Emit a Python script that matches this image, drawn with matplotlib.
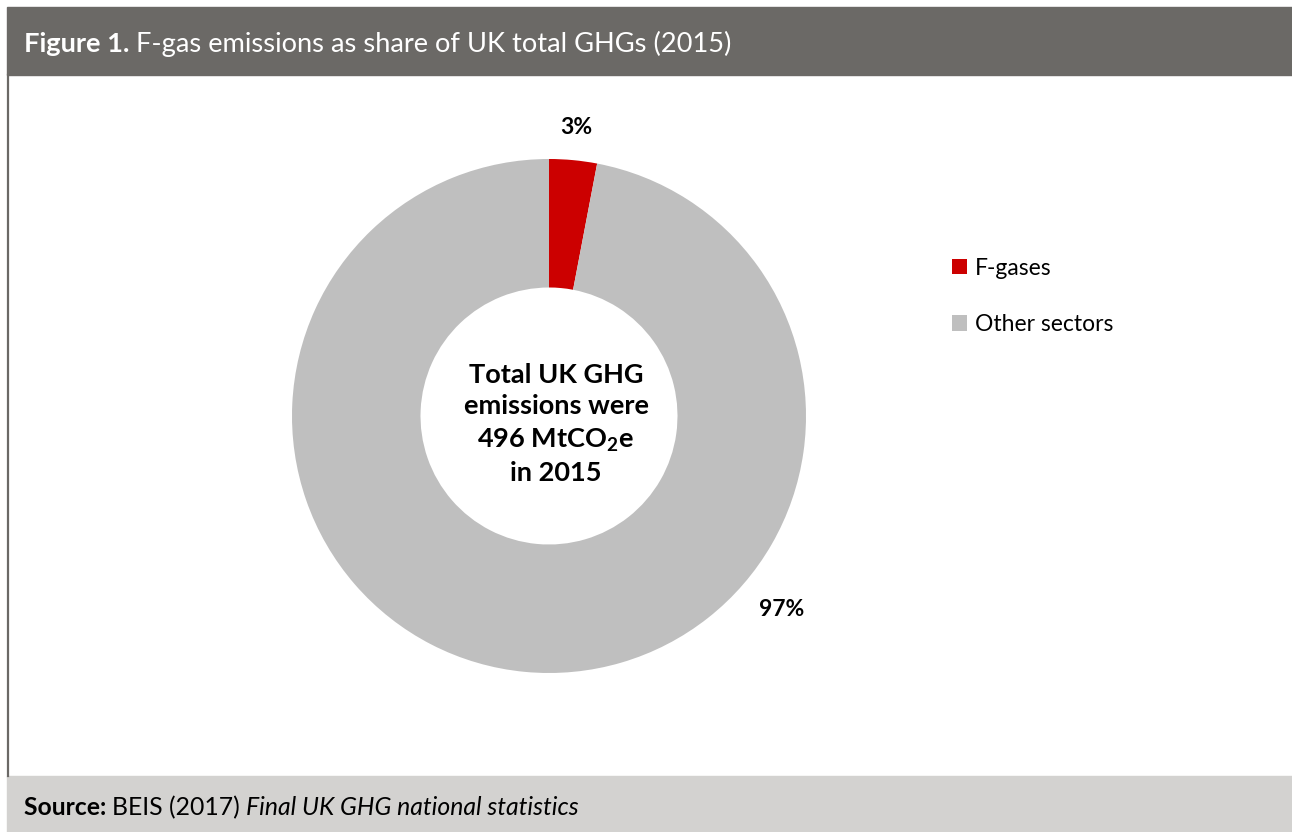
import matplotlib.pyplot as plt
from matplotlib.patches import Rectangle
from matplotlib.lines import Line2D

# datos
categorias = ['F-gases', 'Other sectors']
valores = [3, 97]
colores = ['#cc0000', '#bfbfbf']
etiquetas = ['3%', '97%']

plt.rcParams['font.family'] = ['Lato', 'DejaVu Sans']
plt.rcParams['mathtext.fontset'] = 'custom'
plt.rcParams['mathtext.rm'] = 'Lato'
plt.rcParams['mathtext.bf'] = 'Lato:bold'

W, H = 1292, 832
fig = plt.figure(figsize=(W / 100, H / 100), dpi=100)
renderer = fig.canvas.get_renderer()

def fx(px):
    return px / W

def fy(py):
    return 1 - py / H

# escribe trozos de texto uno tras otro en la misma linea
def texto_en_trozos(x, y, trozos, **kw):
    for txt, estilo in trozos:
        t = fig.text(fx(x), fy(y), txt, va='baseline', ha='left', **estilo, **kw)
        bb = t.get_window_extent(renderer)
        x += bb.width

# cabecera y pie
fig.patches.append(Rectangle((fx(7), fy(75)), fx(W - 7), 68 / H, transform=fig.transFigure,
                             color='#6b6966', zorder=0))
fig.patches.append(Rectangle((fx(7), 0), fx(W - 7), 56 / H, transform=fig.transFigure,
                             color='#d3d2d0', zorder=0))
fig.lines.append(Line2D([fx(8), fx(8)], [fy(75), fy(776)], transform=fig.transFigure,
                        color='#6b6966', lw=1.6))

texto_en_trozos(24, 52, [('Figure 1. ', dict(fontweight='bold')),
                         ('F-gas emissions as share of UK total GHGs (2015)', {})],
                color='white', fontsize=19.6)
texto_en_trozos(24, 815, [('Source: ', dict(fontweight='bold')),
                          ('BEIS (2017) ', {}),
                          ('Final UK GHG national statistics', dict(style='italic'))],
                color='black', fontsize=17.8)

# donut
r = 257
size = 2.5 * r
ax = fig.add_axes([fx(549 - size / 2), (H - 416 - size / 2) / H, size / W, size / H])
wedges, _ = ax.pie(valores, colors=colores, startangle=90, counterclock=False,
                   wedgeprops=dict(width=0.5, linewidth=0))
ax.set_xlim(-1.25, 1.25)
ax.set_ylim(-1.25, 1.25)
ax.set_aspect('equal')

ax.text(27 / r, 289 / r, etiquetas[0], ha='center', va='center', fontsize=16.5, fontweight='bold')
ax.text(233 / r, -193 / r, etiquetas[1], ha='center', va='center', fontsize=16.5, fontweight='bold')

ax.text(7 / r, -8 / r, 'Total UK GHG\nemissions were\n496 MtCO$_\\mathbf{2}$e\nin 2015',
        ha='center', va='center', fontsize=19.5, fontweight='bold', linespacing=1.36)

fig.legend(wedges, categorias, loc='upper left', bbox_to_anchor=(fx(931), fy(237)),
           frameon=False, fontsize=16.5, handlelength=0.65, handleheight=0.65,
           handletextpad=0.35, labelspacing=1.55)

fig.savefig('out.png', dpi=100)
